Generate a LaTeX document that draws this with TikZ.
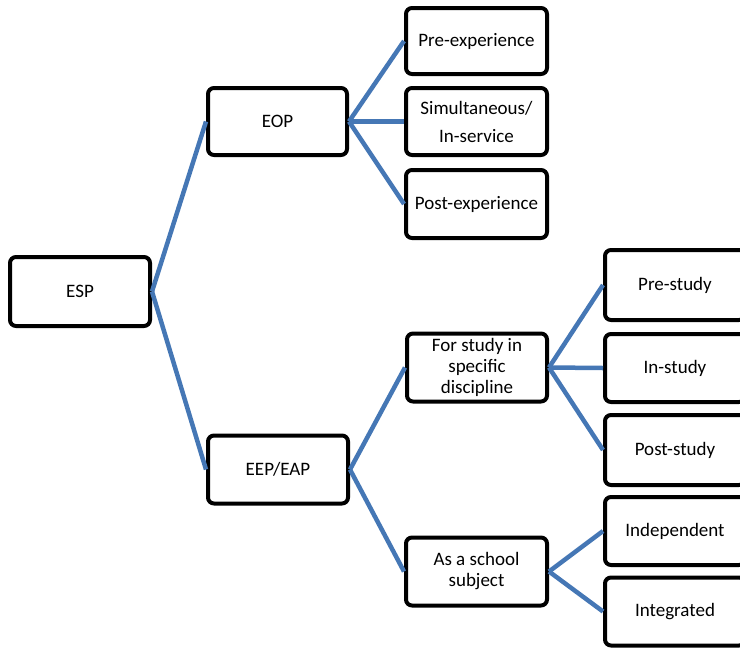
\documentclass[tikz,border=0pt]{standalone}
\usepackage{fontspec}
\setmainfont{Carlito}
\definecolor{linkblue}{HTML}{4577B5}
\begin{document}
\begin{tikzpicture}[x=1pt,y=-1pt,
  box/.style={draw=black,line width=4pt,rounded corners=6pt,fill=white,
    minimum width=140pt,minimum height=68pt,inner sep=2pt,align=center,
    font=\fontsize{19}{21}\selectfont},
  link/.style={draw=linkblue,line width=4.5pt}]
\useasboundingbox (0,0) rectangle (740,649);
\clip (0,0) rectangle (740,649);

% root and first level
\node[box,minimum height=69pt] (esp) at (80,291.5) {ESP};
\node[box,minimum width=139pt,minimum height=67pt] (eop) at (277.5,121.5) {EOP};
\node[box] (eep) at (278,469.5) {EEP/EAP};

% occupational branch
\node[box,minimum width=141pt,minimum height=66pt] (pre) at (476.5,41) {Pre-experience};
\node[box,minimum width=141pt,minimum height=67pt] (sim) at (476.5,121.5) {Simultaneous/\\[7pt]In-service};
\node[box,minimum width=141pt] (post) at (476.5,204) {Post-experience};

% academic branch
\node[box] (disc) at (477,367.5) {For study in\\specific\\discipline};
\node[box,minimum width=141pt] (school) at (476.5,571.5) {As a school\\subject};

% third level
\node[box,minimum height=70pt] (prest) at (675,285) {Pre-study};
\node[box] (inst) at (675,368) {In-study};
\node[box,minimum height=70pt] (postst) at (675,450) {Post-study};
\node[box] (indep) at (675,531) {Independent};
\node[box] (integ) at (675,611.5) {Integrated};

% connectors
\draw[link] (esp.east) -- (eop.west);
\draw[link] (esp.east) -- (eep.west);
\draw[link] (eop.east) -- (pre.west);
\draw[link] (eop.east) -- (sim.west);
\draw[link] (eop.east) -- (post.west);
\draw[link] (eep.east) -- (disc.west);
\draw[link] (eep.east) -- (school.west);
\draw[link] (disc.east) -- (prest.west);
\draw[link] (disc.east) -- (inst.west);
\draw[link] (disc.east) -- (postst.west);
\draw[link] (school.east) -- (indep.west);
\draw[link] (school.east) -- (integ.west);
\end{tikzpicture}
\end{document}
